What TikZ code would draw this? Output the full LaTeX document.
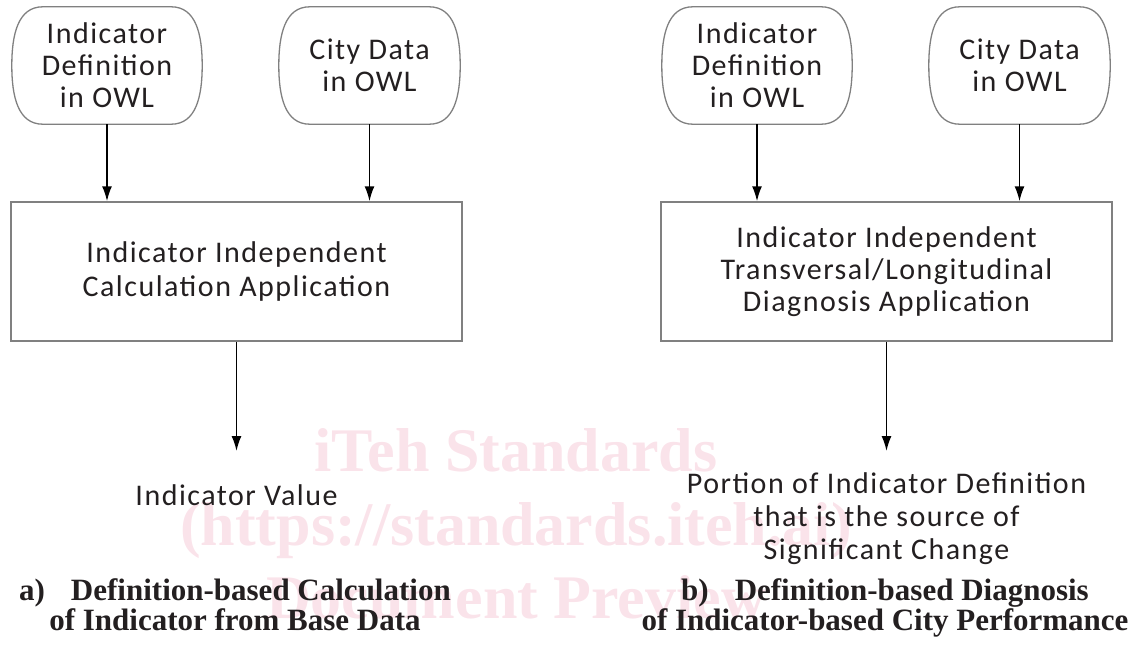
\documentclass[tikz,border=0pt]{standalone}
\usepackage{fontspec}
\setmainfont{Carlito}[LetterSpace=5]
\newfontfamily\capfont{Liberation Serif}
\usetikzlibrary{arrows.meta,positioning}
\definecolor{inkgray}{RGB}{35,31,32}
\definecolor{framegray}{RGB}{128,128,128}
\definecolor{stampred}{RGB}{250,227,234}
\tikzset{>={Latex[length=15pt,width=10pt]},
  source/.style={minimum width=190pt, minimum height=117pt, inner sep=0pt,
    align=center, text=inkgray, font=\fontsize{30}{32}\selectfont},
  process/.style={draw=framegray, line width=1.5pt, minimum width=451pt,
    minimum height=139pt, inner sep=0pt, align=center, text=inkgray,
    font=\fontsize{30}{32}\selectfont},
  result/.style={inner sep=0pt, align=center, text=inkgray,
    font=\fontsize{30}{33}\selectfont},
  caption/.style={inner sep=0pt, align=center, text=inkgray,
    font=\capfont\bfseries\fontsize{31}{30}\selectfont},
  stamp/.style={inner sep=0pt, text=stampred, anchor=base,
    font=\capfont\bfseries\fontsize{62}{62}\selectfont},
  flow/.style={->, line width=1.6pt, draw=black},
  srcline/.style={draw=framegray, line width=1.3pt}}

% outline of an input block: flat top and bottom, bulging sides
\newcommand{\srcoutline}[1]{%
  \draw[srcline] ([xshift=31pt]#1.north west) -- ([xshift=-31pt]#1.north east)
    .. controls ([xshift=-6pt]#1.north east) and ([yshift=-28pt]#1.north east) .. (#1.east)
    .. controls ([yshift=28pt]#1.south east) and ([xshift=-6pt]#1.south east) .. ([xshift=-31pt]#1.south east)
    -- ([xshift=31pt]#1.south west)
    .. controls ([xshift=6pt]#1.south west) and ([yshift=28pt]#1.south west) .. (#1.west)
    .. controls ([yshift=-28pt]#1.north west) and ([xshift=6pt]#1.north west) .. cycle;}

\begin{document}
\begin{tikzpicture}[x=1pt,y=-1pt]
  \useasboundingbox (0,0) rectangle (1140,661);
  % watermark
  \node[stamp] (stampa) at (516,471) {iTeh Standards};
  \node[stamp] (stampb) at (516,545) {(https://standards.iteh.ai)};
  \node[stamp] (stampc) at (516,618) {Document Preview};

  % a) calculation
  \node[source] (idefA) at (107,65.5) {Indicator\\Definition\\in OWL};
  \node[source, minimum width=181pt] (cityA) at (369.5,65.5) {City Data\\in OWL};
  \srcoutline{idefA}
  \srcoutline{cityA}
  \node[process, font=\fontsize{30}{34}\selectfont] (calcA) at (236.5,271.5)
    {Indicator Independent\\Calculation Application};
  \draw[flow] (idefA.south) -- (idefA.south |- calcA.north);
  \draw[flow] (cityA.south) -- (cityA.south |- calcA.north);
  \node[result, anchor=north] (valA) at (236.5,484) {Indicator Value};
  \draw[flow, shorten >=33pt] (calcA.south) -- (valA.north);
  \node[caption, anchor=north] (capA) at (235,578)
    {a)\hspace{26pt}Definition-based Calculation\\of Indicator from Base Data};

  % b) diagnosis
  \node[source] (idefB) at (757,65.5) {Indicator\\Definition\\in OWL};
  \node[source, minimum width=181pt] (cityB) at (1019.5,65.5) {City Data\\in OWL};
  \srcoutline{idefB}
  \srcoutline{cityB}
  \node[process] (diagB) at (886.5,271.5)
    {Indicator Independent\\Transversal/Longitudinal\\Diagnosis Application};
  \draw[flow] (idefB.south) -- (idefB.south |- diagB.north);
  \draw[flow] (cityB.south) -- (cityB.south |- diagB.north);
  \node[result, anchor=north] (partB) at (886.5,472)
    {Portion of Indicator Definition\\that is the source of\\Significant Change};
  \draw[flow, shorten >=21pt] (diagB.south) -- (partB.north);
  \node[caption, anchor=north] (capB) at (885,578)
    {b)\hspace{26pt}Definition-based Diagnosis\\of Indicator-based City Performance};
\end{tikzpicture}
\end{document}
